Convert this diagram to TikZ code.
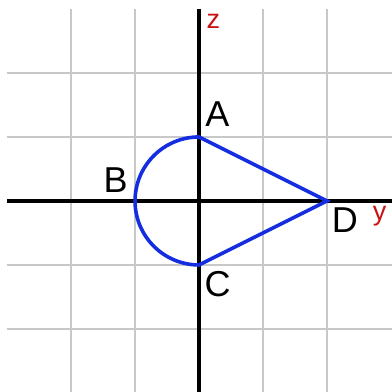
\documentclass[tikz,border=0pt]{standalone}
\usepackage{fontspec}
\setmainfont{Liberation Sans}
\usetikzlibrary{positioning}
\definecolor{gridgray}{RGB}{200,200,200}
\definecolor{curveblue}{RGB}{20,45,225}
\definecolor{axisred}{RGB}{200,20,20}
\tikzset{
  gridline/.style={draw, gridgray, line width=0.9pt},
  axisline/.style={draw, black, line width=1.8pt},
  curveline/.style={draw, curveblue, line width=1.6pt, line join=miter},
  ptlabel/.style={anchor=base west, inner sep=0pt,
                  font=\fontsize{16}{19}\selectfont},
  axislabel/.style={anchor=base west, inner sep=0pt, text=axisred,
                    font=\fontsize{12}{14}\selectfont}
}

\begin{document}
\begin{tikzpicture}
  \useasboundingbox (-3.11,-2.98) rectangle (3.015,3.14);
  \foreach \k in {-2,...,2} {
    \draw[gridline] (\k,-3) -- (\k,3);
    \draw[gridline] (-3,\k) -- (3.1,\k);
  }
  \coordinate (west) at (-3,0);
  \coordinate (east) at (3.1,0);
  \coordinate (top) at (0,3);
  \coordinate (bottom) at (0,-3.1);
  \draw[axisline] (west) -- (east);
  \draw[axisline] (top) -- (bottom);
  \coordinate (A) at (0,1);
  \coordinate (B) at (-1,0);
  \coordinate (C) at (0,-1);
  \coordinate (D) at (2,0);
  \draw[curveline] (A) arc[start angle=90, end angle=270, radius=1]
    -- (D) -- cycle;
  \node[ptlabel] (labelA) at (0.09, 1.16) {A};
  \node[ptlabel, anchor=base east] (labelB) at (-1.11, 0.14) {B};
  \node[ptlabel] (labelC) at (0.08, -1.49) {C};
  \node[ptlabel] (labelD) at (2.07, -0.5) {D};
  \node[axislabel] (labelz) at (0.11, 2.70) {z};
  \node[axislabel] (labely) at (2.71, -0.30) {y};
\end{tikzpicture}
\end{document}
